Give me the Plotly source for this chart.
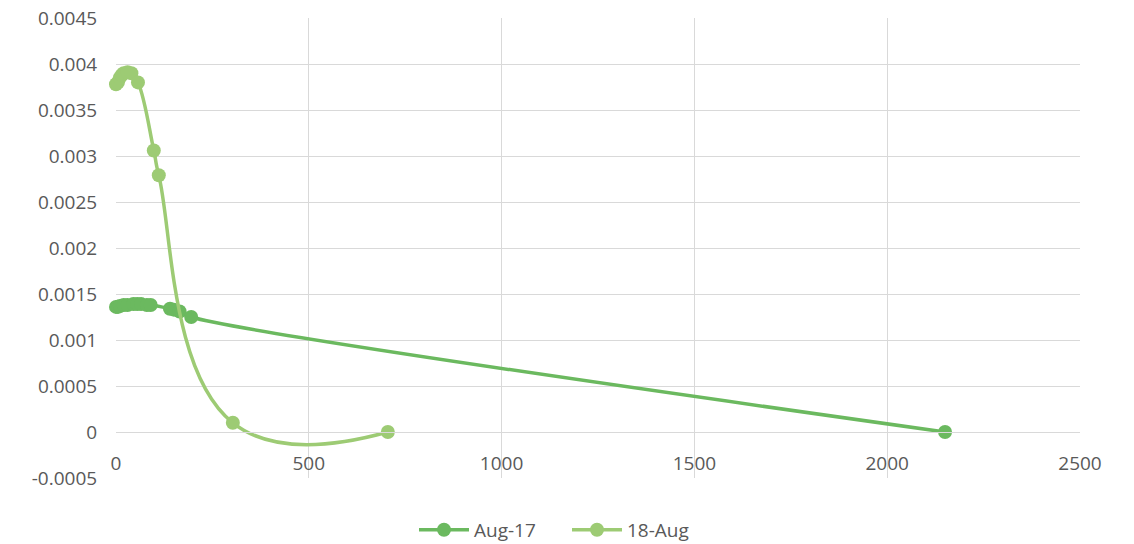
#! /usr/bin/env python3

import plotly.graph_objects as go

# series "Aug-17"
aug17_x = [0, 5, 10, 20, 30, 45, 55, 65, 80, 90, 140, 150, 165, 195, 2150]
aug17_y = [0.00136, 0.00136, 0.00137, 0.00138, 0.00138, 0.00139, 0.00139,
           0.00139, 0.00138, 0.00138, 0.00134, 0.00133, 0.00131, 0.00125, 0.0]

# series "18-Aug"
aug18_x = [0, 5, 10, 15, 20, 30, 40, 57, 98, 111, 303, 705]
aug18_y = [0.00378, 0.0038, 0.00385, 0.00388, 0.0039, 0.00391, 0.0039,
           0.0038, 0.00306, 0.00279, 0.0001, 0.0]

yTicks = [-0.0005, 0, 0.0005, 0.001, 0.0015, 0.002, 0.0025, 0.003, 0.0035, 0.004, 0.0045]
yTickText = ["-0.0005", "0", "0.0005", "0.001", "0.0015", "0.002", "0.0025",
             "0.003", "0.0035", "0.004", "0.0045"]
xTicks = [0, 500, 1000, 1500, 2000, 2500]

fig = go.Figure()

fig.add_trace(go.Scatter(
	x=aug17_x, y=aug17_y, name="Aug-17",
	mode="lines+markers", cliponaxis=False,
	line=dict(color="#6bb95f", width=3.5, shape="spline", smoothing=1),
	marker=dict(color="#6bb95f", size=14)
	))

fig.add_trace(go.Scatter(
	x=aug18_x, y=aug18_y, name="18-Aug",
	mode="lines+markers", cliponaxis=False,
	line=dict(color="#9dcb74", width=3.5, shape="spline", smoothing=1.3),
	marker=dict(color="#9dcb74", size=14)
	))

fig.update_layout(
	width=1134, height=544,
	margin=dict(l=116, r=54, t=18, b=66),
	paper_bgcolor="white", plot_bgcolor="white",
	font=dict(family="Open Sans", size=19, color="#595959"),
	showlegend=True,
	legend=dict(orientation="h", xref="container", yref="container",
		x=0.5, xanchor="center", y=0.026, yanchor="middle",
		itemwidth=50, entrywidth=88,
		font=dict(size=19)),
	)

fig.update_xaxes(
	range=[0, 2500], tickvals=xTicks,
	showgrid=True, gridcolor="#d9d9d9", gridwidth=1,
	zeroline=False, showline=True, linecolor="#d9d9d9", linewidth=1,
	anchor="free", position=0.1, automargin=False,
	ticks="outside", ticklen=14, tickcolor="rgba(0,0,0,0)",
	)

fig.update_yaxes(
	range=[-0.0005, 0.0045], tickvals=yTicks, ticktext=yTickText,
	showgrid=True, gridcolor="#d9d9d9", gridwidth=1,
	zeroline=False, showline=False, automargin=False,
	ticks="outside", ticklen=14, tickcolor="rgba(0,0,0,0)",
	)

# page body has a default 8px margin, drop it so the chart fills the window
fig.write_html("out.html", config={"displayModeBar": False},
	post_script="document.body.style.margin='0';")
